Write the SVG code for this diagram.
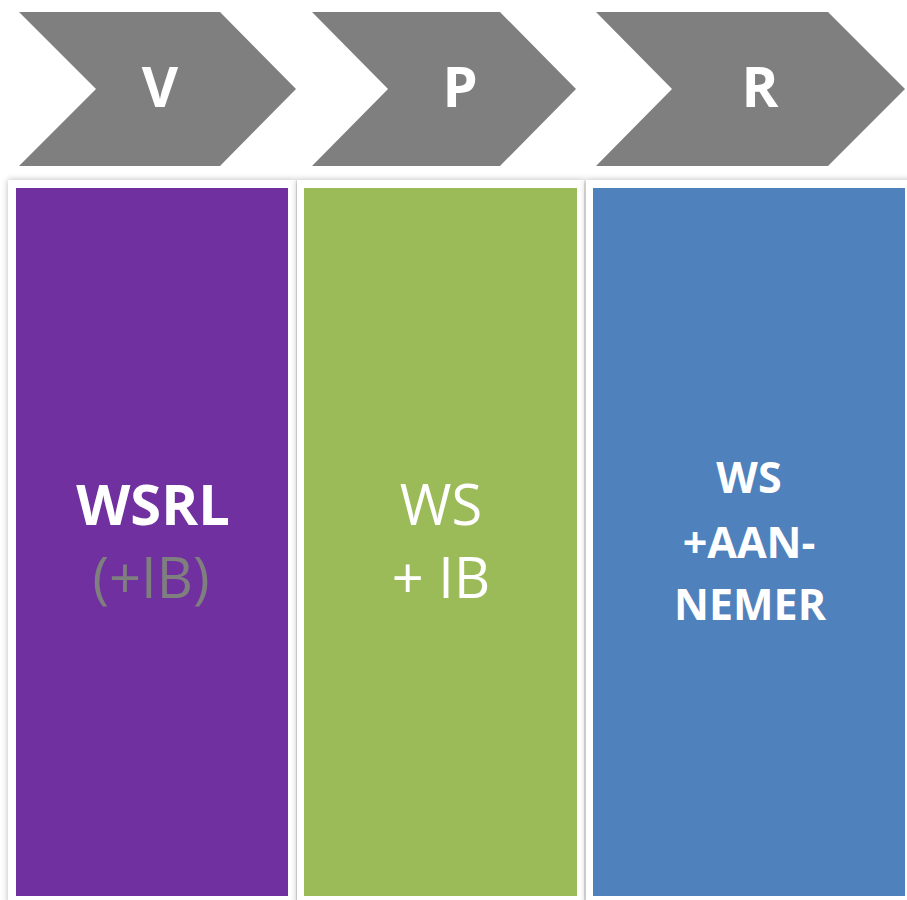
<svg xmlns="http://www.w3.org/2000/svg" width="907" height="900" viewBox="0 0 907 900">
  <defs>
    <filter id="shadow" x="-10%" y="-5%" width="120%" height="110%">
      <feDropShadow dx="0" dy="0" stdDeviation="3" flood-color="#000" flood-opacity="0.28"/>
    </filter>
  </defs>
  <style>
    .chev { fill: #7f7f7f; }
    .chevtxt { font-family: "Open Sans", "Liberation Sans", sans-serif; font-weight: bold; font-size: 56px; fill: #ffffff; text-anchor: middle; }
    .card { fill: #ffffff; filter: url(#shadow); }
    .t { font-family: "Open Sans", "Liberation Sans", sans-serif; text-anchor: middle; fill: #ffffff; }
    .b56 { font-weight: bold; font-size: 56px; }
    .r56 { font-weight: normal; font-size: 56px; }
    .b43 { font-weight: bold; font-size: 43px; }
  </style>
  <rect width="907" height="900" fill="#ffffff"/>
  <g id="chevron-v">
    <polygon class="chev" points="19,12 220,12 296,89 220,166 19,166 96,89"/>
    <text class="chevtxt" x="160" y="107">V</text>
  </g>
  <g id="chevron-p">
    <polygon class="chev" points="312,12 500,12 576,89 500,166 312,166 388,89"/>
    <text class="chevtxt" x="460" y="107">P</text>
  </g>
  <g id="chevron-r">
    <polygon class="chev" points="596,12 828,12 905,89 828,166 596,166 672,89"/>
    <text class="chevtxt" x="760" y="107">R</text>
  </g>
  <g id="box-v">
    <rect class="card" x="8" y="180" width="288" height="724"/>
    <rect x="16" y="188" width="272" height="708" fill="#7030a0"/>
    <text class="t b56" x="153" y="525">WSRL</text>
    <text class="t r56" x="151" y="598" fill="#7f7f7f" style="fill:#7f7f7f">(+IB)</text>
  </g>
  <g id="box-p">
    <rect class="card" x="297" y="180" width="287" height="724"/>
    <rect x="304" y="188" width="273" height="708" fill="#9bbb59"/>
    <text class="t r56" x="441" y="525">WS</text>
    <text class="t r56" x="441" y="598">+ IB</text>
  </g>
  <g id="box-r">
    <rect class="card" x="586" y="180" width="330" height="724"/>
    <rect x="593" y="188" width="312" height="708" fill="#4f81bd"/>
    <text class="t b43" x="749" y="493">WS</text>
    <text class="t b43" x="749" y="558">+AAN-</text>
    <text class="t b43" x="750" y="620">NEMER</text>
  </g>
  <g id="connectors"/>
</svg>
